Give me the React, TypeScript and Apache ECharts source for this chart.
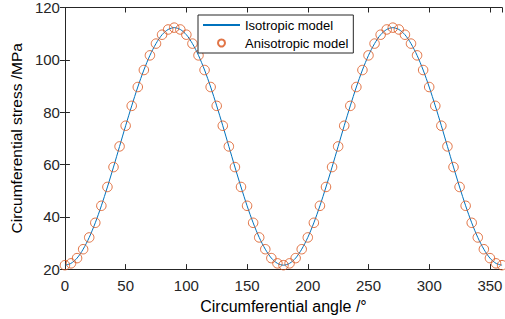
import React, { useEffect, useRef } from "react";
import * as echarts from "echarts";

const angles: number[] = [
  0, 5, 10, 15, 20, 25, 30, 35, 40, 45, 50, 55, 60, 65, 70, 75, 80, 85, 90,
  95, 100, 105, 110, 115, 120, 125, 130, 135, 140, 145, 150, 155, 160, 165, 170, 175, 180,
  185, 190, 195, 200, 205, 210, 215, 220, 225, 230, 235, 240, 245, 250, 255, 260, 265, 270,
  275, 280, 285, 290, 295, 300, 305, 310, 315, 320, 325, 330, 335, 340, 345, 350, 355, 360,
];

const isotropic: number[] = [
  21.5, 22.2, 24.2, 27.6, 32.1, 37.7, 44.2, 51.4, 59.0, 66.9, 74.8, 82.4, 89.6, 96.1, 101.7, 106.2, 109.6, 111.6, 112.3,
  111.6, 109.6, 106.2, 101.7, 96.1, 89.6, 82.4, 74.8, 66.9, 59.0, 51.4, 44.2, 37.7, 32.1, 27.6, 24.2, 22.2, 21.5,
  22.2, 24.2, 27.6, 32.1, 37.7, 44.2, 51.4, 59.0, 66.9, 74.8, 82.4, 89.6, 96.1, 101.7, 106.2, 109.6, 111.6, 112.3,
  111.6, 109.6, 106.2, 101.7, 96.1, 89.6, 82.4, 74.8, 66.9, 59.0, 51.4, 44.2, 37.7, 32.1, 27.6, 24.2, 22.2, 21.5,
];

const anisotropic: number[] = [
  21.5, 22.2, 24.2, 27.6, 32.1, 37.7, 44.2, 51.4, 59.0, 66.9, 74.8, 82.4, 89.6, 96.1, 101.7, 106.2, 109.6, 111.6, 112.3,
  111.6, 109.6, 106.2, 101.7, 96.1, 89.6, 82.4, 74.8, 66.9, 59.0, 51.4, 44.2, 37.7, 32.1, 27.6, 24.2, 22.2, 21.5,
  22.2, 24.2, 27.6, 32.1, 37.7, 44.2, 51.4, 59.0, 66.9, 74.8, 82.4, 89.6, 96.1, 101.7, 106.2, 109.6, 111.6, 112.3,
  111.6, 109.6, 106.2, 101.7, 96.1, 89.6, 82.4, 74.8, 66.9, 59.0, 51.4, 44.2, 37.7, 32.1, 27.6, 24.2, 22.2, 21.5,
];

const xTitle = "Circumferential angle /°";
const yTitle = "Circumferential stress /MPa";
const seriesNames = ["Isotropic model", "Anisotropic model"];

const FONT = "'Liberation Sans', Arial, sans-serif";
const AX = "#262626";

export default function App() {
  const ref = useRef<HTMLDivElement>(null);
  useEffect(() => {
    if (!ref.current) return;
    const chart = echarts.init(ref.current, null, { renderer: "svg" });
    const axisCommon = {
      axisLine: { show: true, lineStyle: { color: AX, width: 1 } },
      axisTick: { show: true, inside: true, length: 5, lineStyle: { color: AX, width: 1 } },
      splitLine: { show: false },
    };
    chart.setOption({
      animation: false,
      backgroundColor: "#ffffff",
      textStyle: { fontFamily: FONT },
      grid: { left: 49, right: 2, top: 5, bottom: 46, containLabel: false },
      legend: {
        orient: "vertical",
        left: 198,
        top: 15,
        padding: [2.5, 5, 2.5, 4],
        itemGap: 3,
        itemWidth: 37,
        itemHeight: 7,
        borderColor: AX,
        borderWidth: 1,
        borderRadius: 0,
        backgroundColor: "#ffffff",
        textStyle: { fontSize: 13, lineHeight: 15, color: "#000", fontFamily: FONT },
        data: [
          { name: seriesNames[0], itemStyle: { opacity: 0 } },
          { name: seriesNames[1] },
        ],
      },
      xAxis: [
        {
          type: "value",
          min: 0,
          max: 360,
          interval: 50,
          name: xTitle,
          nameLocation: "middle",
          nameGap: 26,
          nameTextStyle: { fontSize: 16, color: "#000", fontFamily: FONT },
          axisLabel: { fontSize: 15, color: "#262626", margin: 9, showMaxLabel: false, fontFamily: FONT },
          ...axisCommon,
        },
        {
          type: "value",
          position: "top",
          min: 0,
          max: 360,
          interval: 50,
          axisLabel: { show: false },
          ...axisCommon,
        },
      ],
      yAxis: [
        {
          type: "value",
          min: 20,
          max: 120,
          interval: 20,
          name: yTitle,
          nameLocation: "middle",
          nameGap: 33,
          nameTextStyle: { fontSize: 15.5, color: "#000", fontFamily: FONT },
          axisLabel: { fontSize: 15, color: "#262626", margin: 5, fontFamily: FONT },
          ...axisCommon,
        },
        {
          type: "value",
          position: "right",
          min: 20,
          max: 120,
          interval: 20,
          axisLabel: { show: false },
          ...axisCommon,
        },
      ],
      series: [
        {
          name: seriesNames[0],
          type: "line",
          data: angles.map((a, i) => [a, isotropic[i]]),
          smooth: 0.3,
          symbol: "none",
          lineStyle: { color: "#0072BD", width: 1 },
          itemStyle: { color: "#0072BD" },
          z: 2,
        },
        {
          name: seriesNames[1],
          type: "scatter",
          data: angles.map((a, i) => [a, anisotropic[i]]),
          symbol: "circle",
          symbolSize: 9.5,
          itemStyle: { color: "rgba(0,0,0,0)", borderColor: "#D95319", borderWidth: 1 },
          z: 3,
        },
      ],
    });
    return () => chart.dispose();
  }, []);
  return <div ref={ref} style={{ width: 505, height: 319, position: "absolute", left: 0, top: 0 }} />;
}
